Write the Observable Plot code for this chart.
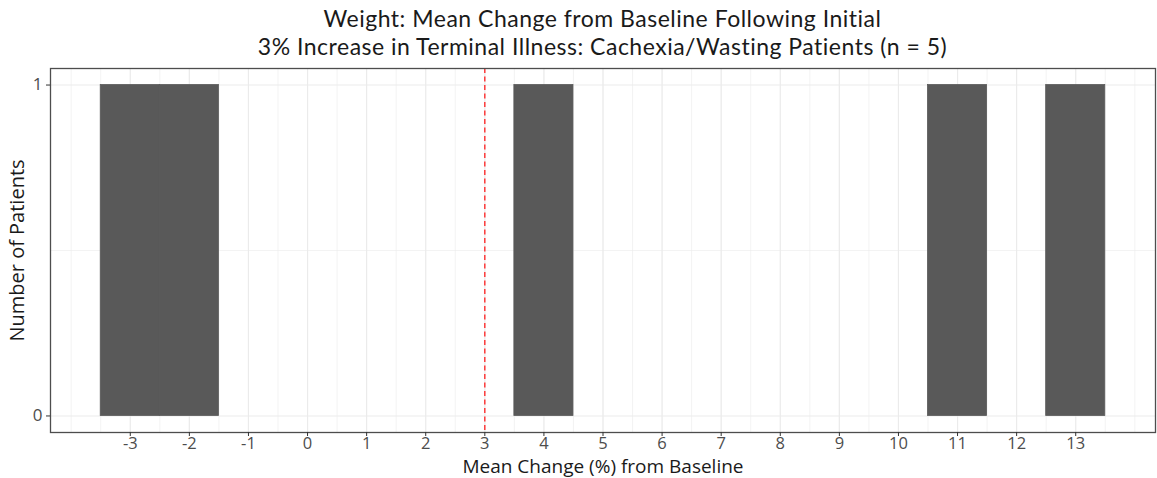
<!DOCTYPE html>
<html>
<head>
<meta charset="utf-8">
<script src="https://cdn.jsdelivr.net/npm/d3@7"></script>
<script src="https://cdn.jsdelivr.net/npm/@observablehq/plot@0.6"></script>
<style>
  html, body { margin: 0; padding: 0; background: #fff; }
  #title { width: 1157px; height: 64px; box-sizing: border-box; padding-left: 50px; padding-right: 2px;
    text-align: center; font-family: Lato, "Open Sans", sans-serif; font-size: 23px; line-height: 28px;
    letter-spacing: 0.5px; color: #1a1a1a; padding-top: 4px; overflow: hidden; }
  svg { display: block; }
</style>
</head>
<body>
<div id="title"></div>
<div id="chart"></div>
<script>
// ---- data ----
const titleLines = [
  "Weight: Mean Change from Baseline Following Initial",
  "3% Increase in Terminal Illness: Cachexia/Wasting Patients (n = 5)"
];
const xLabel = "Mean Change (%) from Baseline";
const yLabel = "Number of Patients";
const binCenters = [-3, -2, 4, 11, 13];
const binCounts = [1, 1, 1, 1, 1];
const binWidth = 1;
const xTicks = [-3, -2, -1, 0, 1, 2, 3, 4, 5, 6, 7, 8, 9, 10, 11, 12, 13];
const yTicks = [0, 1];
const threshold = [3];
const xDomain = [-4.35, 14.35];
const yDomain = [-0.05, 1.05];

// derived tables
const bins = binCenters.map((c, i) => ({x1: c - binWidth / 2, x2: c + binWidth / 2, n: binCounts[i]}));
const xMinor = d3.range(-8, 29).map(d => d / 2); // -4 .. 14 by 0.5
const yMinor = [0.5];

document.getElementById("title").innerHTML = titleLines.map(t => `<div>${t}</div>`).join("");

const font = "'Open Sans', Lato, sans-serif";

const chart = Plot.plot({
  width: 1157,
  height: 414,
  marginTop: 4,
  marginBottom: 46,
  marginLeft: 50,
  marginRight: 2,
  style: {fontFamily: font, fontSize: "16px", background: "#fff", overflow: "visible"},
  x: {domain: xDomain},
  y: {domain: yDomain},
  marks: [
    Plot.ruleX(xMinor, {stroke: "#ebebeb", strokeWidth: 0.6}),
    Plot.ruleX(xTicks, {stroke: "#ebebeb", strokeWidth: 1.1}),
    Plot.ruleY(yMinor, {stroke: "#ebebeb", strokeWidth: 0.6}),
    Plot.ruleY(yTicks, {stroke: "#ebebeb", strokeWidth: 1.1}),
    Plot.rectY(bins, {x1: "x1", x2: "x2", y1: 0, y2: "n", fill: "#595959", stroke: "#595959", strokeWidth: 0.8, inset: 0}),
    Plot.ruleX(threshold, {stroke: "#ff2020", strokeWidth: 1.3, strokeDasharray: "5,3.5"}),
    Plot.frame({stroke: "#4d4d4d", strokeWidth: 1.3}),
    Plot.axisX({ticks: xTicks, tickFormat: d => String(d), tickSize: 4, tickPadding: 1,
      stroke: "#333", color: "#4d4d4d", fontSize: 16.5, label: null}),
    Plot.axisY({ticks: yTicks, tickFormat: d => String(d), tickSize: 4, tickPadding: 4,
      stroke: "#333", color: "#4d4d4d", fontSize: 17, label: null}),
    Plot.text([xLabel], {frameAnchor: "bottom", dy: 34, lineAnchor: "middle", textAnchor: "middle", fontSize: 19, fill: "#1a1a1a"}),
    Plot.text([yLabel], {frameAnchor: "left", dx: -33, rotate: -90, lineAnchor: "middle", textAnchor: "middle", fontSize: 20, fill: "#1a1a1a"})
  ]
});
document.getElementById("chart").appendChild(chart);
</script>
</body>
</html>
